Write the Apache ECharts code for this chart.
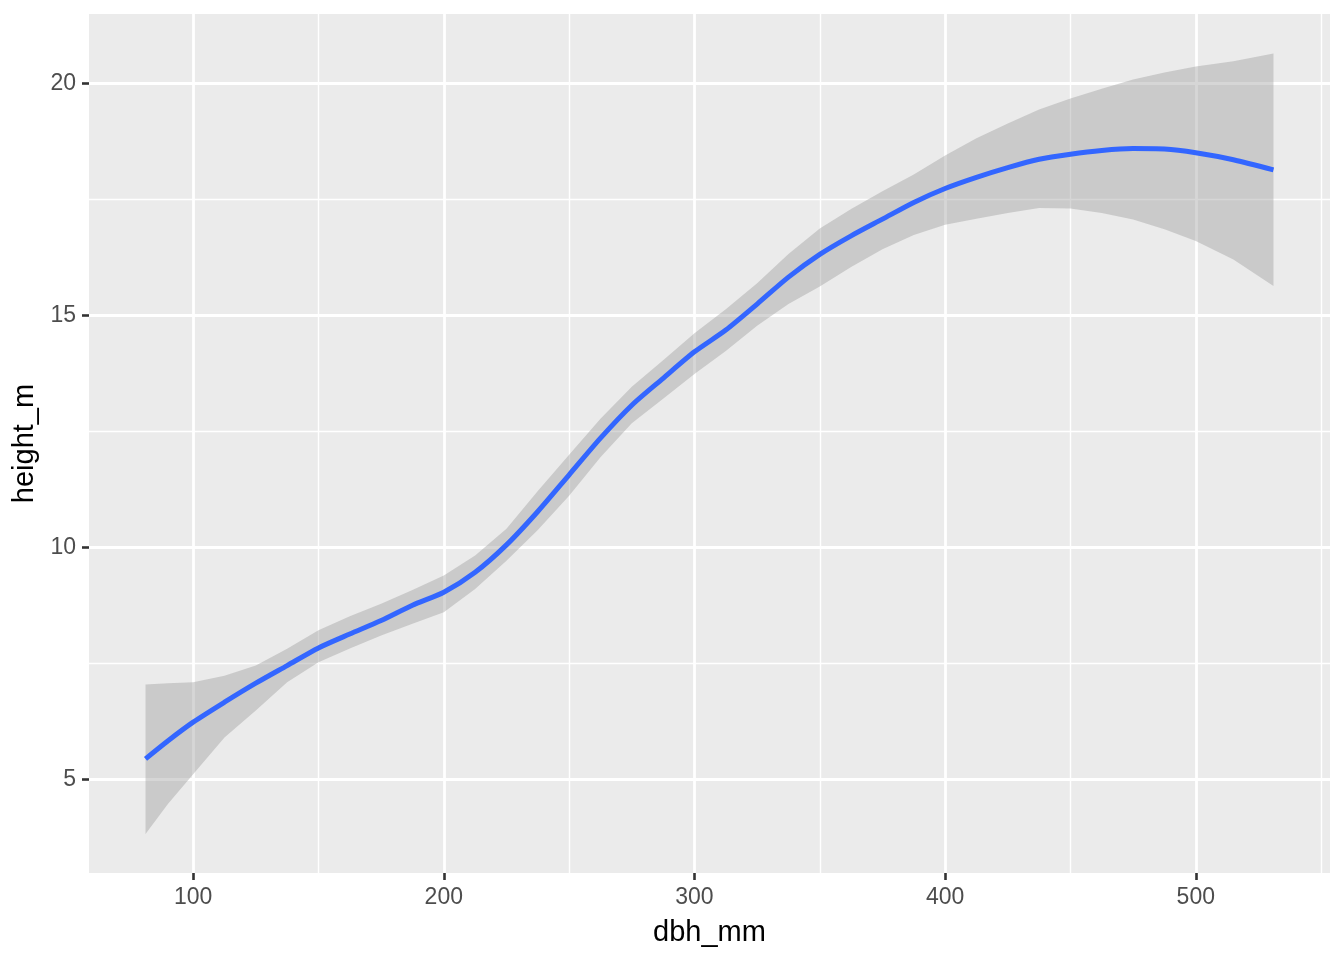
<!DOCTYPE html>
<html>
<head>
<meta charset="utf-8">
<script src="https://cdn.jsdelivr.net/npm/echarts@6/dist/echarts.min.js"></script>
<style>
html,body{margin:0;padding:0;background:#fff;}
#chart{width:1344px;height:960px;}
</style>
</head>
<body>
<div id="chart"></div>
<script>
// ---- data ----
const dbh = [81, 90, 100, 112.5, 125, 137.5, 150, 162.5, 175, 187.5, 200, 212.5, 225, 237.5, 250, 262.5, 275, 287.5, 300, 312.5, 325, 337.5, 350, 362.5, 375, 387.5, 400, 412.5, 425, 437.5, 450, 462.5, 475, 487.5, 500, 515, 531];
const fitHeight = [5.45, 5.84, 6.24, 6.67, 7.08, 7.46, 7.84, 8.14, 8.43, 8.76, 9.04, 9.47, 10.06, 10.78, 11.57, 12.36, 13.07, 13.65, 14.22, 14.69, 15.25, 15.83, 16.32, 16.72, 17.08, 17.44, 17.74, 17.98, 18.19, 18.37, 18.48, 18.56, 18.60, 18.59, 18.51, 18.36, 18.14];
const upperCI = [7.05, 7.08, 7.10, 7.24, 7.46, 7.82, 8.22, 8.52, 8.79, 9.09, 9.40, 9.83, 10.41, 11.22, 12.00, 12.78, 13.47, 14.04, 14.62, 15.14, 15.70, 16.33, 16.88, 17.30, 17.68, 18.04, 18.45, 18.82, 19.14, 19.44, 19.68, 19.89, 20.09, 20.24, 20.37, 20.48, 20.65];
const lowerCI = [3.83, 4.48, 5.12, 5.91, 6.49, 7.10, 7.53, 7.83, 8.11, 8.36, 8.61, 9.11, 9.72, 10.38, 11.12, 11.95, 12.68, 13.21, 13.74, 14.24, 14.78, 15.25, 15.63, 16.05, 16.43, 16.74, 16.96, 17.09, 17.21, 17.32, 17.31, 17.21, 17.07, 16.86, 16.61, 16.21, 15.64];
const xTicks = [100, 200, 300, 400, 500];
const xMinor = [150, 250, 350, 450, 550];
const yTicks = [5, 10, 15, 20];
const yMinor = [7.5, 12.5, 17.5];
const xRange = [58.45, 553.55];
const yRange = [2.99, 21.50];

const chart = echarts.init(document.getElementById('chart'), null, {renderer: 'canvas'});
const FONT = 'Liberation Sans, Arial, sans-serif';

const gridLines = []
  .concat(xMinor.map(v => ({xAxis: v, lineStyle: {width: 1.4}})))
  .concat(yMinor.map(v => ({yAxis: v, lineStyle: {width: 1.4}})))
  .concat(xTicks.map(v => ({xAxis: v, lineStyle: {width: 2.8}})))
  .concat(yTicks.map(v => ({yAxis: v, lineStyle: {width: 2.8}})));

const tickStyle = {show: true, inside: false, length: 7, lineStyle: {color: '#333333', width: 2.6}};

function renderBand(params, api) {
  if (params.dataIndex !== 0) return null;
  const pts = [];
  for (let i = 0; i < dbh.length; i++) pts.push(api.coord([dbh[i], upperCI[i]]));
  for (let i = dbh.length - 1; i >= 0; i--) pts.push(api.coord([dbh[i], lowerCI[i]]));
  return {
    type: 'polygon',
    shape: {points: pts},
    style: {fill: 'rgba(153,153,153,0.4)', stroke: null}
  };
}

chart.setOption({
  animation: false,
  backgroundColor: '#ffffff',
  grid: {left: 89, right: 14, top: 14, bottom: 87, show: true, backgroundColor: '#EBEBEB', borderWidth: 0, containLabel: false},
  xAxis: {
    type: 'value', min: xRange[0], max: xRange[1],
    name: 'dbh_mm', nameLocation: 'middle', nameGap: 45,
    nameTextStyle: {fontSize: 29, color: '#000000', fontFamily: FONT},
    axisLine: {show: false},
    axisTick: Object.assign({customValues: xTicks}, tickStyle),
    axisLabel: {customValues: xTicks, margin: 13, fontSize: 23, color: '#4D4D4D', fontFamily: FONT},
    splitLine: {show: false}
  },
  yAxis: {
    type: 'value', min: yRange[0], max: yRange[1],
    name: 'height_m', nameLocation: 'middle', nameGap: 39, nameRotate: 90,
    nameTextStyle: {fontSize: 29, color: '#000000', fontFamily: FONT},
    axisLine: {show: false},
    axisTick: Object.assign({customValues: yTicks}, tickStyle),
    axisLabel: {customValues: yTicks, margin: 13, fontSize: 23, color: '#4D4D4D', fontFamily: FONT},
    splitLine: {show: false}
  },
  series: [
    {
      name: 'band', type: 'custom', z: 2, silent: true,
      renderItem: renderBand,
      encode: {x: 0, y: [1, 2]},
      data: dbh.map((x, i) => [x, lowerCI[i], upperCI[i]]),
      markLine: {
        silent: true, symbol: ['none', 'none'], z: 1, animation: false,
        label: {show: false},
        lineStyle: {color: '#FFFFFF', type: 'solid'},
        emphasis: {disabled: true},
        data: gridLines
      }
    },
    {
      name: 'fit', type: 'line', symbol: 'none', smooth: 0.25, z: 3,
      lineStyle: {color: '#3366FF', width: 5},
      data: dbh.map((x, i) => [x, fitHeight[i]])
    }
  ]
});
</script>
</body>
</html>
